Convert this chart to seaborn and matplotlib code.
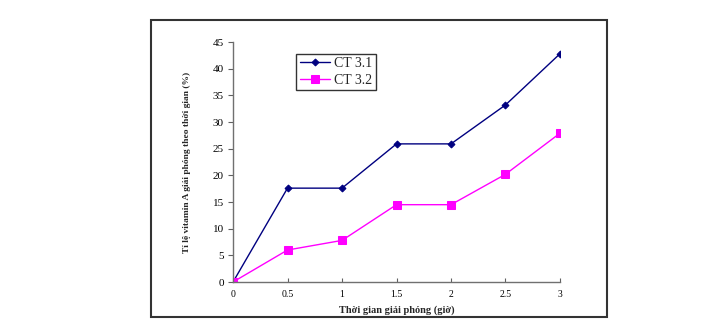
import matplotlib
matplotlib.use("Agg")
import matplotlib.pyplot as plt
import seaborn as sns
import pandas as pd
from matplotlib.patches import Rectangle
from matplotlib.ticker import FuncFormatter

times = [0, 0.5, 1, 1.5, 2, 2.5, 3]
ct31 = [0, 17.6, 17.6, 25.9, 25.9, 33.2, 42.8]
ct32 = [0, 6.0, 7.8, 14.5, 14.5, 20.2, 27.9]
series_names = ["CT 3.1", "CT 3.2"]
xlabel = "Thời gian giải phóng (giờ)"
ylabel = "Tỉ lệ vitamin A giải phóng theo thời gian (%)"

df = pd.DataFrame({
    "t": times * 2,
    "v": ct31 + ct32,
    "s": [series_names[0]] * len(times) + [series_names[1]] * len(times),
})

sns.set_style("white")
plt.rcParams["font.family"] = ["Liberation Serif", "DejaVu Serif"]

fig = plt.figure(figsize=(7.25, 3.28), dpi=100)
ax = fig.add_axes([0.3214, 0.1402, 0.451, 0.7317])

palette = {series_names[0]: "#000080", series_names[1]: "#FF00FF"}
markers = {series_names[0]: "D", series_names[1]: "s"}
sizes = {series_names[0]: 3.5, series_names[1]: 6}
for name in series_names:
    sub = df[df["s"] == name]
    sns.lineplot(data=sub, x="t", y="v", ax=ax, color=palette[name],
                 marker=markers[name], markersize=sizes[name],
                 markeredgecolor=palette[name], linewidth=1.0, label=name)

ax.set_xlim(0, 3)
ax.set_ylim(0, 45)
ax.set_xticks(times)
ax.set_yticks(range(0, 46, 5))
fmt = FuncFormatter(lambda v, p: f"{v:g}")
ax.xaxis.set_major_formatter(fmt)
ax.yaxis.set_major_formatter(fmt)
ax.tick_params(axis="x", direction="in", length=3, width=0.8, labelsize=7, pad=6,
               color="#606060", labelcolor="black")
ax.tick_params(axis="y", direction="out", length=3.5, width=0.8, labelsize=8, pad=3,
               color="#606060", labelcolor="black")
ax.tick_params(left=True, bottom=True)
for side in ["top", "right"]:
    ax.spines[side].set_visible(False)
for side in ["left", "bottom"]:
    ax.spines[side].set_color("#707070")
    ax.spines[side].set_linewidth(1.0)
ax.set_xlabel(xlabel, fontsize=7.5, fontweight="bold", labelpad=4)
ax.set_ylabel(ylabel, fontsize=6.8, fontweight="bold", labelpad=16)

leg = ax.legend(loc="upper left", bbox_to_anchor=(0.172, 0.98), fontsize=10,
                frameon=True, fancybox=False, shadow=False, borderpad=0.25,
                handlelength=2.2, handletextpad=0.3, labelspacing=0.25)
leg.get_frame().set_edgecolor("black")
leg.get_frame().set_linewidth(1.0)

fig.patches.append(Rectangle((0.2083, 0.0335), 0.629, 0.9055, transform=fig.transFigure,
                             fill=False, edgecolor="#333333", linewidth=1.5))

fig.savefig("out.png", dpi=100, facecolor="white")
